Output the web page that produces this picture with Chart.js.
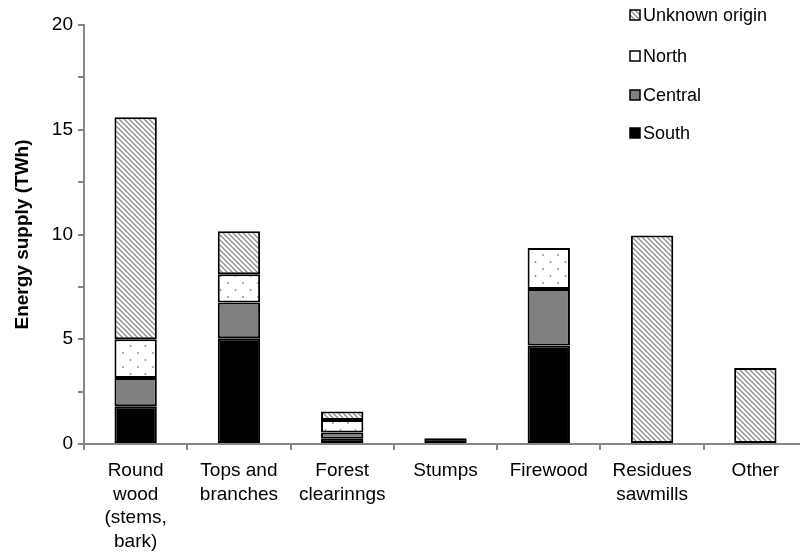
<!DOCTYPE html>
<html>
<head>
<meta charset="utf-8">
<script src="https://cdn.jsdelivr.net/npm/chart.js@4.4.1/dist/chart.umd.min.js"></script>
<style>
  html, body { margin: 0; padding: 0; background: #fff; overflow: hidden; }
  #wrap { width: 807px; height: 556px; }
</style>
</head>
<body>
<div id="wrap"><canvas id="chart" width="807" height="556"></canvas></div>
<script>
const categories = [
    ['Round', 'wood', '(stems,', 'bark)'],
    ['Tops and', 'branches'],
    ['Forest', 'clearinngs'],
    ['Stumps'],
    ['Firewood'],
    ['Residues', 'sawmills'],
    ['Other']
];
const south   = [1.8, 5.05, 0.25, 0.28, 4.7, null, null];
const central = [1.35, 1.7, 0.3, null, 2.7, null, null];
const north   = [1.85, 1.35, 0.6, null, 1.95, null, null];
const unknown = [10.6, 2.05, 0.4, null, null, 9.95, 3.63];
const yTicks = [0, 5, 10, 15, 20];

const FONT = '"Liberation Sans", Arial, sans-serif';

function hatchPattern() {
    const c = document.createElement('canvas');
    c.width = 5; c.height = 5;
    const g = c.getContext('2d');
    g.fillStyle = '#fff';
    g.fillRect(0, 0, 5, 5);
    g.strokeStyle = '#8c8c8c';
    g.lineWidth = 1.3;
    g.beginPath();
    g.moveTo(-1, -1); g.lineTo(6, 6);
    g.moveTo(-1, 4); g.lineTo(1, 6);
    g.moveTo(4, -1); g.lineTo(6, 1);
    g.stroke();
    return g.createPattern(c, 'repeat');
}

function dotPattern() {
    const c = document.createElement('canvas');
    c.width = 15; c.height = 14;
    const g = c.getContext('2d');
    g.fillStyle = '#fff';
    g.fillRect(0, 0, 15, 14);
    g.fillStyle = '#8c8c8c';
    g.beginPath();
    g.arc(3, 3, 0.9, 0, Math.PI * 2);
    g.arc(10.5, 10, 0.9, 0, Math.PI * 2);
    g.fill();
    return g.createPattern(c, 'repeat');
}

const hatch = hatchPattern();
const dots = dotPattern();

// legend drawn at top right, in reverse order like the original
const legendPlugin = {
    id: 'cornerLegend',
    afterDraw(chart) {
        const ctx = chart.ctx;
        const rows = [
            { label: 'Unknown origin', fill: hatch, y: 15 },
            { label: 'North', fill: '#ffffff', y: 56 },
            { label: 'Central', fill: '#808080', y: 95 },
            { label: 'South', fill: '#000000', y: 133 }
        ];
        ctx.save();
        ctx.font = '18px ' + FONT;
        ctx.textBaseline = 'middle';
        rows.forEach(r => {
            ctx.fillStyle = r.fill;
            ctx.fillRect(630, r.y - 5, 10, 10);
            ctx.strokeStyle = '#000';
            ctx.lineWidth = 1.5;
            ctx.strokeRect(630, r.y - 5, 10, 10);
            ctx.fillStyle = '#000';
            ctx.fillText(r.label, 643, r.y + 1);
        });
        ctx.restore();
    }
};

const barStyle = {
    borderColor: '#000',
    borderWidth: 2,
    borderSkipped: false,
    barPercentage: 0.41,
    categoryPercentage: 1
};

new Chart(document.getElementById('chart'), {
    type: 'bar',
    data: {
        labels: categories,
        datasets: [
            { label: 'South', data: south, backgroundColor: '#000000', ...barStyle },
            { label: 'Central', data: central, backgroundColor: '#808080', ...barStyle },
            { label: 'North', data: north, backgroundColor: dots, ...barStyle },
            { label: 'Unknown origin', data: unknown, backgroundColor: hatch, ...barStyle }
        ]
    },
    options: {
        responsive: false,
        animation: false,
        layout: { padding: { top: 25, right: 0, left: 0, bottom: 0 } },
        plugins: {
            legend: { display: false },
            tooltip: { enabled: false }
        },
        scales: {
            x: {
                stacked: true,
                afterFit(scale) { scale.height = 112; },
                border: { color: '#868686', width: 2 },
                grid: { offset: true, drawOnChartArea: false, tickLength: 6, color: '#868686', lineWidth: 2 },
                ticks: {
                    color: '#000',
                    maxRotation: 0,
                    autoSkip: false,
                    padding: 9,
                    font: { family: FONT, size: 19, lineHeight: 1.24 }
                }
            },
            y: {
                stacked: true,
                min: 0,
                max: 20,
                afterFit(scale) { scale.width = 84; },
                border: { color: '#868686', width: 2 },
                grid: { drawOnChartArea: false, tickLength: 6, color: '#868686', lineWidth: 2 },
                ticks: {
                    stepSize: 2.5,
                    color: '#000',
                    padding: 5,
                    font: { family: FONT, size: 19 },
                    callback: v => yTicks.includes(v) ? String(v) : ''
                },
                title: {
                    display: true,
                    text: 'Energy supply (TWh)',
                    color: '#000',
                    padding: { top: 11, bottom: 0 },
                    font: { family: FONT, size: 19, weight: 'bold' }
                }
            }
        }
    },
    plugins: [legendPlugin]
});
</script>
</body>
</html>
